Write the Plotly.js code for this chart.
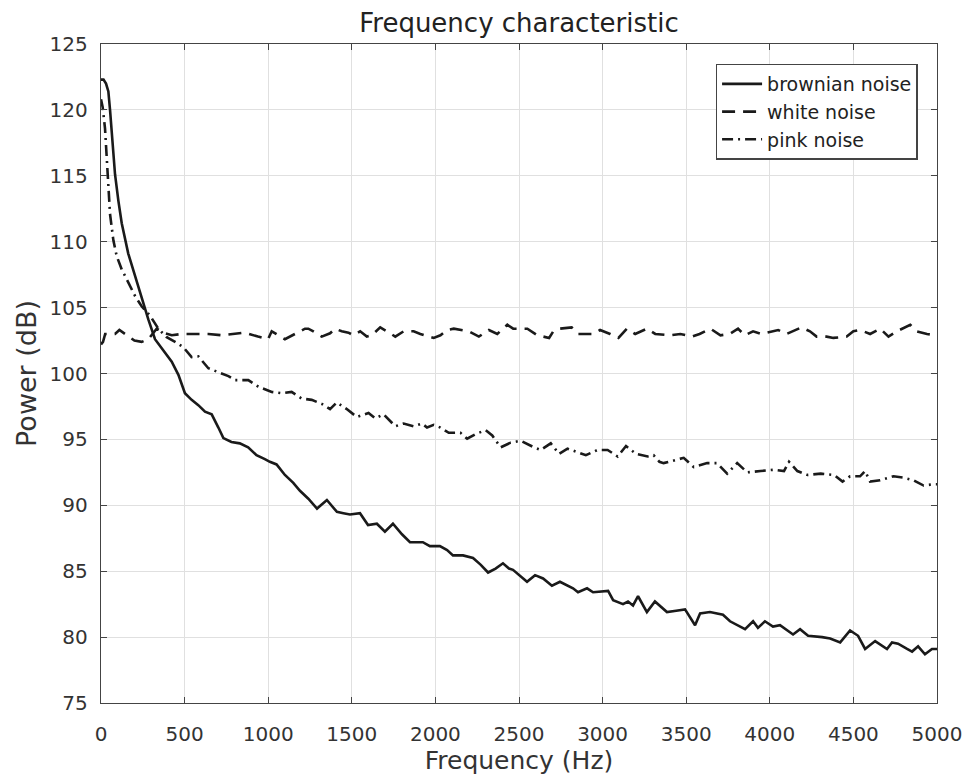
<!DOCTYPE html>
<html>
<head>
<meta charset="utf-8">
<script src="https://cdn.plot.ly/plotly-3.0.1.min.js"></script>
<style>html,body{margin:0;padding:0;background:#fff;}#chart{width:966px;height:778px;}</style>
</head>
<body>
<div id="chart"></div>
<script>
// ---- data ----
const seriesNames = ["brownian noise", "white noise", "pink noise"];

const brownFreq = [0,15,30,44,54,68,84,104,124,163,203,243,283,323,363,423,463,502,542,582,622,662,702,732,780,830,880,930,980,1010,1050,1100,1150,1190,1240,1292,1351,1411,1450,1489,1549,1597,1650,1698,1746,1800,1848,1925,1967,2027,2070,2105,2165,2225,2270,2315,2360,2404,2440,2464,2548,2596,2644,2697,2745,2823,2853,2907,2943,3033,3063,3122,3152,3182,3212,3265,3313,3385,3440,3493,3553,3583,3642,3720,3762,3852,3900,3929,3971,4019,4061,4139,4181,4229,4313,4361,4421,4480,4528,4570,4630,4701,4731,4767,4821,4851,4887,4928,4970,5000];
const brownDb = [122.3,122.3,122.0,121.4,120.0,117.6,115.1,113.1,111.4,109.1,107.4,105.75,104.1,102.6,101.9,100.9,99.9,98.5,98.0,97.6,97.1,96.9,95.9,95.1,94.8,94.7,94.4,93.8,93.5,93.3,93.1,92.3,91.7,91.1,90.5,89.75,90.4,89.5,89.4,89.3,89.4,88.5,88.6,88.0,88.6,87.8,87.2,87.2,86.9,86.9,86.6,86.2,86.2,86.0,85.5,84.9,85.2,85.6,85.2,85.1,84.2,84.7,84.45,83.9,84.2,83.7,83.4,83.7,83.4,83.5,82.8,82.5,82.7,82.4,83.1,81.9,82.7,81.9,82.0,82.1,80.9,81.8,81.9,81.7,81.2,80.6,81.2,80.7,81.2,80.8,80.9,80.2,80.6,80.1,80.0,79.9,79.6,80.5,80.1,79.1,79.7,79.1,79.6,79.5,79.1,78.9,79.3,78.7,79.1,79.1];

const whiteFreq = [0,12,25,84,110,154,200,243,283,333,373,423,482,562,642,722,801,861,939,999,1021,1100,1160,1220,1240,1270,1320,1370,1400,1440,1480,1510,1550,1590,1620,1670,1710,1760,1810,1870,1910,1990,2030,2070,2110,2200,2260,2320,2370,2430,2465,2550,2610,2680,2705,2745,2815,2855,2945,2985,3045,3095,3145,3195,3265,3315,3405,3465,3535,3580,3645,3705,3760,3810,3850,3900,3950,4050,4100,4190,4240,4280,4340,4380,4460,4500,4540,4600,4660,4710,4760,4840,4880,4940,5000];
const whiteDb = [102.2,102.4,103.0,103.0,103.3,102.9,102.5,102.4,102.6,103.4,103.1,102.9,103.0,103.0,103.0,102.9,103.0,103.1,102.8,102.6,103.2,102.6,103.0,103.4,103.4,103.2,102.8,103.05,103.4,103.2,103.1,102.9,103.2,102.8,102.9,103.5,103.2,102.8,103.2,103.2,103.0,102.7,102.9,103.3,103.4,103.2,102.8,103.3,103.0,103.7,103.4,103.4,102.9,102.7,103.2,103.4,103.5,103.0,103.0,103.3,103.0,102.7,103.4,103.0,103.4,103.0,102.9,103.0,102.8,103.0,103.4,102.9,103.0,103.4,102.9,103.2,103.0,103.3,103.0,103.5,103.2,102.8,102.8,102.7,102.8,103.2,103.3,103.0,103.4,102.8,103.2,103.7,103.2,103.0,102.9];

const pinkFreq = [0,10,24,34,44,54,74,94,124,163,203,243,293,343,393,443,492,542,582,642,702,762,802,881,941,1021,1081,1140,1200,1260,1320,1370,1410,1470,1530,1600,1640,1690,1760,1810,1870,1920,1950,1990,2030,2080,2150,2190,2240,2300,2340,2390,2450,2510,2590,2630,2690,2740,2790,2850,2900,2970,3030,3090,3140,3200,3270,3305,3340,3365,3425,3485,3545,3625,3685,3745,3805,3865,3945,4025,4085,4115,4165,4225,4305,4385,4435,4480,4540,4570,4600,4660,4740,4800,4860,4920,4980,5000];
const pinkDb = [120.8,120.2,118.6,116.4,114.1,112.1,110.1,108.9,107.9,106.9,105.9,105.1,104.4,103.4,102.75,102.4,102.0,101.25,101.3,100.4,100.1,99.8,99.5,99.5,99.0,98.6,98.5,98.6,98.1,98.0,97.7,97.3,97.8,97.3,96.7,97.0,96.6,96.9,96.0,96.2,96.0,96.2,95.9,96.1,95.9,95.5,95.5,95.05,95.4,95.7,95.3,94.4,94.75,94.9,94.4,94.2,94.7,93.9,94.3,94.0,93.8,94.2,94.2,93.7,94.5,93.9,93.7,93.8,93.3,93.2,93.4,93.6,92.9,93.2,93.2,92.4,93.2,92.5,92.6,92.7,92.6,93.3,92.6,92.3,92.4,92.3,91.8,92.2,92.2,92.6,91.8,91.9,92.2,92.1,91.9,91.5,91.6,91.6];

const xTicks = [0,500,1000,1500,2000,2500,3000,3500,4000,4500,5000];
const yTicks = [75,80,85,90,95,100,105,110,115,120,125];

// ---- chart ----
const FONT = "DejaVu Sans, sans-serif";
const LINE = "#1a1a1a";
const traces = [
  {x: brownFreq, y: brownDb, name: seriesNames[0], type: "scatter", mode: "lines",
   line: {color: LINE, width: 2.6, dash: "solid"}},
  {x: whiteFreq, y: whiteDb, name: seriesNames[1], type: "scatter", mode: "lines",
   line: {color: LINE, width: 2.6, dash: "13px,8px"}},
  {x: pinkFreq, y: pinkDb, name: seriesNames[2], type: "scatter", mode: "lines",
   line: {color: LINE, width: 2.6, dash: "11px,5px,2px,5px"}}
];

const axisCommon = {
  showline: true, linecolor: "#444", linewidth: 1.3, mirror: "allticks",
  ticks: "inside", ticklen: 6, tickcolor: "#444", tickwidth: 1,
  showgrid: true, gridcolor: "#e0e0e0", gridwidth: 1, zeroline: false,
  tickfont: {family: FONT, size: 20, color: "#333"}
};

const layout = {
  width: 966, height: 778,
  margin: {l: 101, r: 29, t: 44, b: 75},
  paper_bgcolor: "#fff", plot_bgcolor: "#fff",
  font: {family: FONT, color: "#333"},
  title: {text: "Frequency characteristic", font: {family: FONT, size: 26, color: "#222"},
          x: 0.5, xref: "paper", xanchor: "center", y: 1 - 23/778, yref: "container", yanchor: "middle"},
  xaxis: Object.assign({}, axisCommon, {
    range: [0, 5000], tickvals: xTicks, ticktext: xTicks.map(String), ticklabelstandoff: 13,
    title: {text: "Frequency (Hz)", font: {family: FONT, size: 25, color: "#333"}, standoff: 2}
  }),
  yaxis: Object.assign({}, axisCommon, {
    range: [75, 125], tickvals: yTicks, ticktext: yTicks.map(String), ticklabelstandoff: 8,
    title: {text: "Power (dB)", font: {family: FONT, size: 27, color: "#333"}, standoff: 5}
  }),
  showlegend: true,
  legend: {x: 0.977, xanchor: "right", y: 0.97, yanchor: "top", xref: "paper", yref: "paper",
           bgcolor: "#fff", bordercolor: "#444", borderwidth: 1.3,
           font: {family: FONT, size: 19, color: "#222"}, itemwidth: 40, tracegroupgap: 0}
};

Plotly.newPlot("chart", traces, layout, {displayModeBar: false, staticPlot: true});
</script>
</body>
</html>
